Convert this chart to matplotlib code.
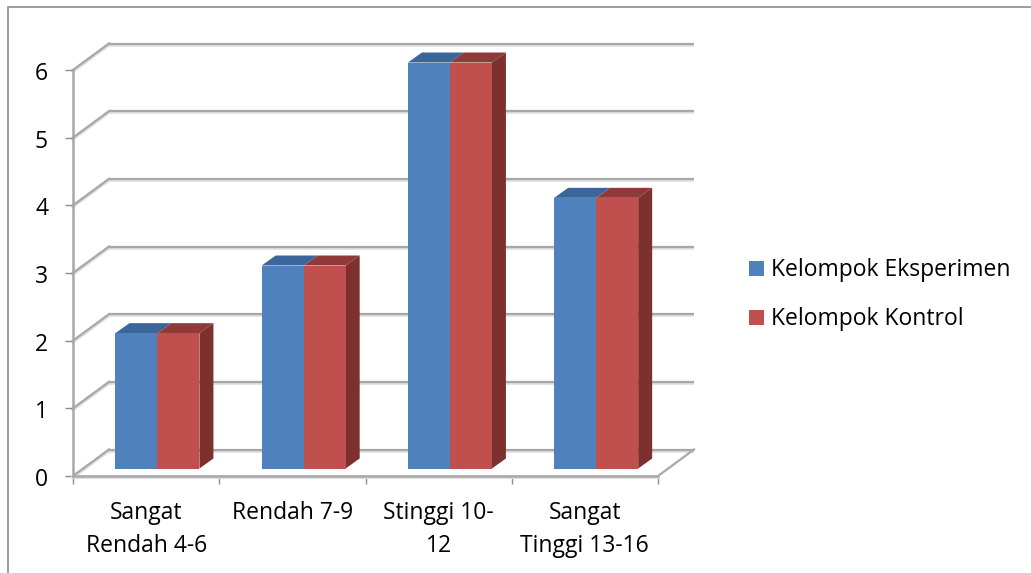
import matplotlib
matplotlib.use("Agg")
import matplotlib.pyplot as plt
from matplotlib.lines import Line2D
from matplotlib.patches import Polygon, Rectangle
from matplotlib.transforms import Affine2D

categories = ["Sangat\nRendah 4-6", "Rendah 7-9", "Stinggi 10-\n12", "Sangat\nTinggi 13-16"]
eksperimen = [2, 3, 6, 4]
kontrol = [2, 3, 6, 4]
y_ticks = [0, 1, 2, 3, 4, 5, 6]

W, H = 1031, 573
plt.rcParams['font.family'] = ['Open Sans', 'DejaVu Sans']
fig = plt.figure(figsize=(W / 100, H / 100), dpi=100, facecolor='white')

# figure frame: only the top and left edges fall inside the picture
fig.add_artist(Line2D([8 / W, 8 / W, 1], [0, 1 - 6.5 / H, 1 - 6.5 / H], transform=fig.transFigure,
                      color='#8c8c8c', lw=1.2, solid_joinstyle='miter'))

# front plane of the axes
L, R, B, T = 73, 658, 476, 70
ax = fig.add_axes([L / W, 1 - B / H, (R - L) / W, (B - T) / H])
ax.set_xlim(0, 4)
ax.set_ylim(0, 6)
ax.patch.set_alpha(0)
for s in ax.spines.values():
    s.set_visible(False)


def off(px, py):
    return ax.transData + Affine2D().translate(px, py)


GRID = '#a8a8a8'
SHADOW = '#dedede'
DX, DY = 36, 26.5

# wall gridlines with their side-wall segments
for v in y_ticks:
    p0 = ax.transData.transform((0, v))
    for col, lw, sh in ((SHADOW, 2.6, -1.0), (GRID, 1.6, 0)):
        ax.add_line(Line2D([0, 4], [v, v], transform=off(DX, DY + sh), color=col, lw=lw, clip_on=False,
                           solid_capstyle='butt', zorder=1.5))
        ax.add_line(Line2D([p0[0], p0[0] + DX], [p0[1] + sh, p0[1] + DY + sh], transform=None,
                           color=col, lw=lw, clip_on=False, zorder=1.5))

# floor right edge
p0 = ax.transData.transform((4, 0))
ax.add_line(Line2D([p0[0], p0[0] + DX], [p0[1], p0[1] + DY], transform=None, color=GRID, lw=1.6,
                   clip_on=False, zorder=1.5))

# axis lines and ticks
ax.add_line(Line2D([0, 4], [0, 0], color=SHADOW, lw=2.8, clip_on=False, zorder=1.55, transform=off(0, -1.0)))
ax.add_line(Line2D([0, 4], [0, 0], color=GRID, lw=1.8, clip_on=False, zorder=1.6))
ax.add_line(Line2D([0, 0], [0, 6], color=GRID, lw=1.8, clip_on=False, zorder=1.6))
ax.set_xticks([0, 1, 2, 3, 4])
ax.set_xticklabels([])
ax.set_yticks(y_ticks)
ax.tick_params(axis='both', color='#8c8c8c', width=1.0, length=6)
ax.tick_params(axis='y', labelsize=16.5, pad=12, labelcolor='black')
for lab in ax.get_yticklabels():
    lab.set_transform(lab.get_transform() + Affine2D().translate(0, -1))

for i, c in enumerate(categories):
    y = -0.79 if '\n' in c else -0.54
    ax.text(i + 0.5, y, c, ha='center', va='center', fontsize=16.5,
            linespacing=1.48, color='black', clip_on=False)

# bars sit a little way into the depth of the floor
BX, BY = 11.3, 7.5
SX, SY = 14, 10
BAR_W = 42 / 146.25
COLORS = [('#4f81bd', '#2f5d8f', '#3a6699'), ('#c0504d', '#7d302e', '#8f3a38')]
for j, values in enumerate((eksperimen, kontrol)):
    front, side, top = COLORS[j]
    for i, v in enumerate(values):
        xl = i + 0.5 + (j - 1) * BAR_W
        ax.bar(xl, v, BAR_W, align='edge', color=front, edgecolor='none', zorder=3,
               transform=off(BX, BY), clip_on=False)
        a = ax.transData.transform((xl, 0)) + (BX, BY)
        b = ax.transData.transform((xl + BAR_W, v)) + (BX, BY)
        ax.add_patch(Polygon([(a[0], b[1]), (b[0], b[1]), (b[0] + SX, b[1] + SY), (a[0] + SX, b[1] + SY)],
                             closed=True, transform=None, facecolor=top, edgecolor='none',
                             zorder=2.9, clip_on=False))
        if j == 1:
            ax.add_patch(Polygon([(b[0], a[1]), (b[0], b[1]), (b[0] + SX, b[1] + SY), (b[0] + SX, a[1] + SY)],
                                 closed=True, transform=None, facecolor=side, edgecolor='none',
                                 zorder=2.95, clip_on=False))

# legend
for name, col, yp in (("Kelompok Eksperimen", '#4f81bd', 268), ("Kelompok Kontrol", '#c0504d', 317)):
    fig.add_artist(Rectangle((749 / W, 1 - (yp + 7.5) / H), 15 / W, 15 / H, transform=fig.transFigure,
                             facecolor=col, edgecolor='none'))
    fig.text(771 / W, 1 - (yp + 2) / H, name, ha='left', va='center', fontsize=16.5, color='black')

fig.savefig('out.png', dpi=100, facecolor='white')
